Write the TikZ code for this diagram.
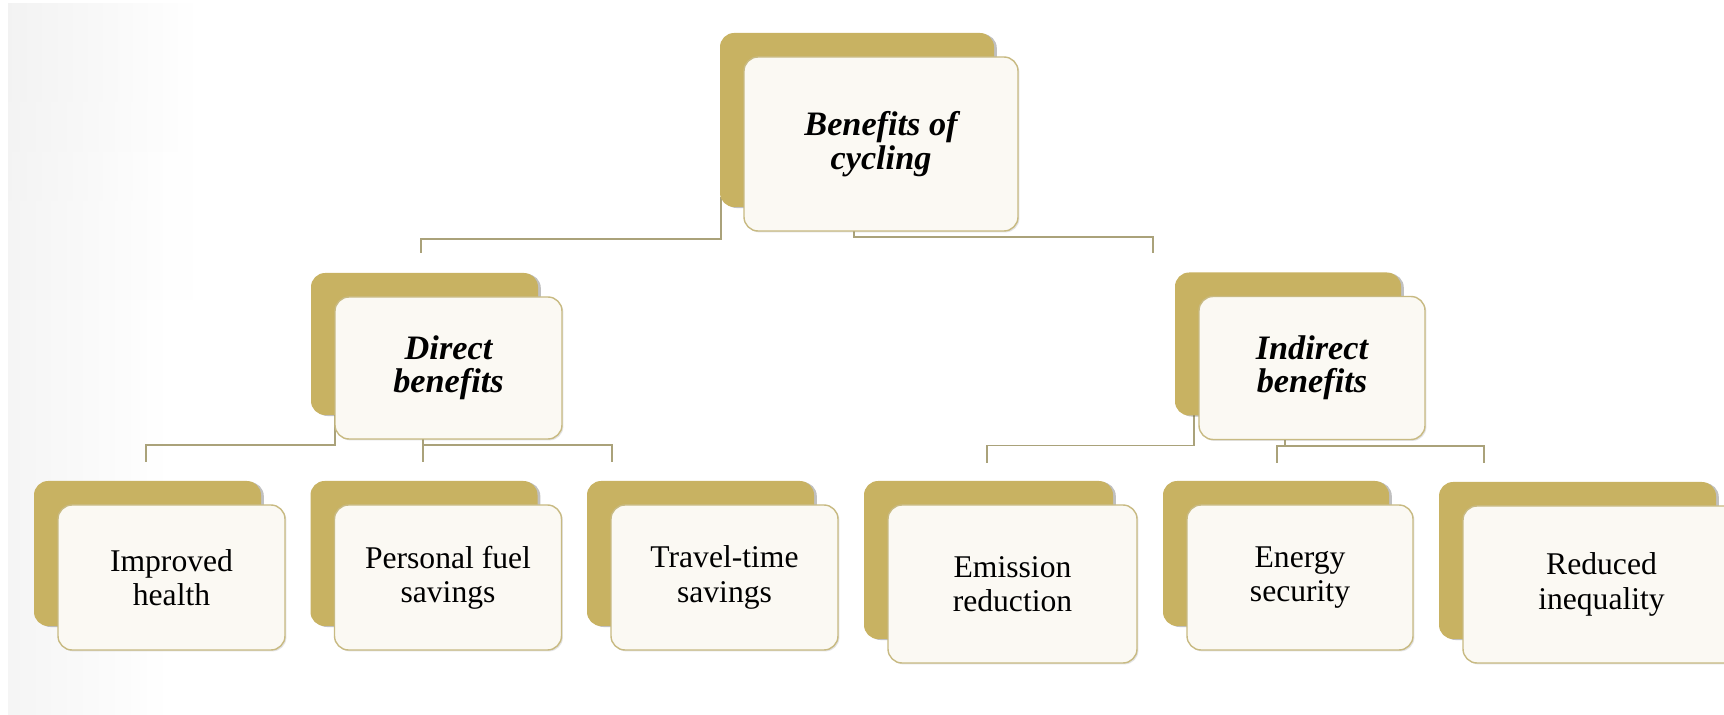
\documentclass[tikz,border=0pt]{standalone}
\usepackage{fontspec}
\setmainfont{Liberation Serif}
\usetikzlibrary{shadows,calc,backgrounds,fadings}
\definecolor{goldc}{RGB}{200,178,98}
\definecolor{creamc}{RGB}{251,249,243}
\definecolor{edgec}{RGB}{200,186,130}
\definecolor{linec}{RGB}{170,162,122}
\tikzset{
  goldbox/.style={fill=goldc, draw=none, rounded corners=8pt, inner sep=0pt, outer sep=0pt,
    drop shadow={shadow xshift=1.6pt, shadow yshift=-0.6pt, opacity=0.35, fill=black!70}},
  whitebox/.style={fill=creamc, draw=edgec, line width=0.8pt, rounded corners=8pt, inner sep=0pt, outer sep=0pt, align=center,
    drop shadow={shadow xshift=0.8pt, shadow yshift=-0.8pt, opacity=0.18, fill=black!60}},
  headtext/.style={font=\fontsize{19.5}{19}\selectfont\bfseries\itshape},
  bodytext/.style={font=\fontsize{18}{19.5}\selectfont},
  conn/.style={draw=linec, line width=1.1pt}
}
\newcommand\benbox[7]{%
  \node[goldbox, minimum width=#4*0.02cm, minimum height=#5*0.02cm] (#1g) at (#2-24,#3-24) {};
  \node[whitebox, #6, minimum width=#4*0.02cm, minimum height=#5*0.02cm] (#1) at (#2,#3) {#7};
}
\begin{document}
\begin{tikzpicture}[x=0.02cm,y=-0.02cm]
\useasboundingbox (0,0) rectangle (1724,715);

\benbox{top}{881}{144}{274}{174}{headtext}{Benefits of\\cycling}
\benbox{dir}{448.5}{368}{227}{142}{headtext}{Direct\\benefits}
\benbox{ind}{1312}{368}{226}{143}{headtext}{Indirect\\benefits}
\benbox{imp}{171.5}{577.5}{227}{145}{bodytext}{Improved\\health}
\benbox{pf}{448}{577.5}{227}{145}{bodytext}{Personal fuel\\savings}
\benbox{tt}{724.5}{577.5}{227}{145}{bodytext}{Travel-time\\savings}
\benbox{em}{1012.5}{584}{249}{158}{bodytext}{Emission\\reduction}
\benbox{es}{1300}{577.5}{226}{145}{bodytext}{Energy\\security}
\benbox{ri}{1601.5}{584.5}{277}{157}{bodytext}{Reduced\\inequality}

\coordinate (jd) at (421,253);
\coordinate (ji) at (1153,253);
\coordinate (impT) at (146,462);
\coordinate (pfT) at (423,462);
\coordinate (ttT) at (612,462);
\coordinate (emT) at (987,463);
\coordinate (esT) at (1277,463);
\coordinate (riT) at (1484,463);

\begin{scope}[on background layer]
  \fill[white] (0,0) rectangle (1724,715);
  \shade[left color=black!4, right color=white] (8,4) rectangle (170,715);
  \shade[left color=black!5, right color=white, path fading=south] (8,4) rectangle (200,300);
  % top level
  \draw[conn] ($(topg.south west)+(1,-10)$) -- ++(0,42) -| (jd);
  \draw[conn] ($(top.south)+(-27,0)$) -- ++(0,6) -| (ji);
  % direct
  \draw[conn] ($(dir.south west)+(0,-24)$) -- ++(0,30) -| (impT);
  \draw[conn] ($(dir.south)+(-25.5,0)$) -- (pfT);
  \draw[conn] ($(dir.south)+(-25.5,6)$) -| (ttT);
  % indirect
  \draw[conn] ($(ind.south west)+(-5,-25)$) -- ++(0,31) -| (emT);
  \draw[conn] ($(ind.south)+(-27,0)$) -- ++(0,6.5) -| (esT);
  \draw[conn] ($(ind.south)+(-27,6.5)$) -| (riT);
\end{scope}
\end{tikzpicture}
\end{document}
